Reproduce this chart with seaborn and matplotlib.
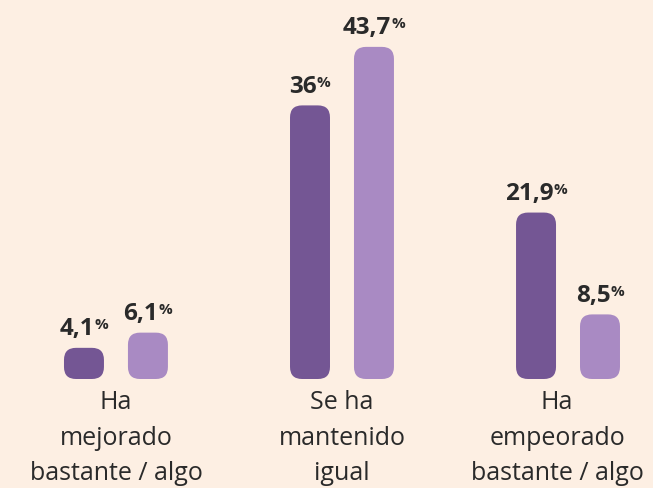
import matplotlib
matplotlib.use("Agg")
import matplotlib.pyplot as plt
from matplotlib.patches import FancyBboxPatch
from matplotlib.transforms import ScaledTranslation
import pandas as pd
import seaborn as sns

# datos
categorias = ["Ha\nmejorado\nbastante / algo", "Se ha\nmantenido\nigual",
              "Ha\nempeorado\nbastante / algo"]
serie_oscura = [4.1, 36.0, 21.9]
serie_clara = [6.1, 43.7, 8.5]
etiquetas_oscura = ["4,1", "36", "21,9"]
etiquetas_clara = ["6,1", "43,7", "8,5"]

FONDO = "#fdefe3"
OSCURO = "#745694"
CLARO = "#a98ac3"
TEXTO = "#2a2a2a"

df = pd.DataFrame({
    "categoria": categorias * 2,
    "valor": serie_oscura + serie_clara,
    "serie": ["oscura"] * 3 + ["clara"] * 3,
})

sns.set_theme(style="white")
plt.rcParams["font.family"] = ["Open Sans", "DejaVu Sans"]

W, H = 653, 489
fig = plt.figure(figsize=(W / 100, H / 100), dpi=100)
fig.patch.set_facecolor(FONDO)
base_px = 109
ax = fig.add_axes([0, base_px / H, 1, (H - base_px) / H])
ax.set_facecolor(FONDO)

sns.barplot(data=df, x="categoria", y="valor", hue="serie",
            palette=[OSCURO, CLARO], width=0.566, gap=0.375,
            saturation=1, legend=False, ax=ax)

xlim = (-0.513, 2.376)
ylim = (0, 50)
ax.set_xlim(*xlim)
ax.set_ylim(*ylim)

# redondear las barras (radio ~12 px)
ux = (xlim[1] - xlim[0]) / W
uy = (ylim[1] - ylim[0]) / (H - base_px)
radio = 12 * ux
aspecto = uy / ux
for p in list(ax.patches):
    x, y = p.get_x(), p.get_y()
    w, h = p.get_width(), p.get_height()
    rp = FancyBboxPatch((x, y), w, h,
                        boxstyle=f"round,pad=0,rounding_size={radio}",
                        mutation_aspect=aspecto, fc=p.get_facecolor(),
                        ec="none", clip_on=False)
    p.remove()
    ax.add_patch(rp)

# etiquetas de valor con % en superindice
for cont, etiquetas in zip(ax.containers, [etiquetas_oscura, etiquetas_clara]):
    for barra, txt in zip(cont, etiquetas):
        cx = barra.get_x() + barra.get_width() / 2
        num = ax.annotate(txt, (cx, barra.get_height()), xytext=(-5, 10),
                          textcoords="offset points", ha="center",
                          va="baseline", fontsize=17.5, fontweight="bold",
                          color=TEXTO, annotation_clip=False)
        ax.annotate("%", xy=(1, 1), xycoords=num, xytext=(0, -1),
                    textcoords="offset points", ha="left", va="top",
                    fontsize=11, fontweight="bold", color=TEXTO,
                    annotation_clip=False)

ax.set_xlabel("")
ax.set_ylabel("")
ax.set_yticks([])
ax.tick_params(axis="x", length=0, pad=7, labelsize=18, labelcolor=TEXTO)
etiquetas_x = ax.get_xticklabels()
for lbl in etiquetas_x:
    lbl.set_linespacing(1.57)
# la ultima etiqueta queda pegada al borde derecho
etiquetas_x[-1].set_transform(etiquetas_x[-1].get_transform()
                              + ScaledTranslation(-0.11, 0, fig.dpi_scale_trans))
sns.despine(ax=ax, left=True, bottom=True)

fig.savefig("out.png", dpi=100, facecolor=FONDO)
